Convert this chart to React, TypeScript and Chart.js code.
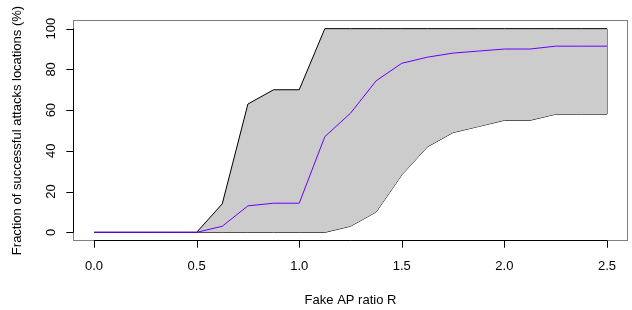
import React, { useEffect, useRef } from "react";
import { Chart, registerables } from "chart.js";

Chart.register(...registerables);

const ratios = [0, 0.125, 0.25, 0.375, 0.5, 0.625, 0.75, 0.875, 1.0, 1.125, 1.25, 1.375, 1.5, 1.625, 1.75, 1.875, 2.0, 2.125, 2.25, 2.375, 2.5];
const upperValues = [0, 0, 0, 0, 0, 14, 63, 70, 70, 100, 100, 100, 100, 100, 100, 100, 100, 100, 100, 100, 100];
const medianValues = [0, 0, 0, 0, 0, 3, 13, 14.3, 14.3, 47, 58.5, 74.4, 83, 86, 88, 89, 90, 90, 91.4, 91.4, 91.4];
const lowerValues = [0, 0, 0, 0, 0, 0, 0, 0, 0, 0, 3, 10, 28.2, 42, 49, 52, 55, 55, 58, 58, 58];

const xTicks = [0, 0.5, 1.0, 1.5, 2.0, 2.5];
const xTickLabels = ["0.0", "0.5", "1.0", "1.5", "2.0", "2.5"];
const yTicks = [0, 20, 40, 60, 80, 100];
const yTickLabels = ["0", "20", "40", "60", "80", "100"];

const xTitle = "Fake AP ratio R";
const yTitle = "Fraction of successful attacks locations (%)";

const FONT = '13px "Liberation Sans", Arial, sans-serif';

const rAxesPlugin = {
  id: "rAxes",
  afterDatasetsDraw(chart: any) {
    const { ctx, chartArea } = chart;
    const xs = chart.scales.x;
    const ys = chart.scales.y;
    ctx.save();
    // box
    ctx.lineWidth = 1;
    ctx.strokeStyle = "#808080";
    ctx.strokeRect(chartArea.left, chartArea.top, chartArea.right - chartArea.left, chartArea.bottom - chartArea.top);

    ctx.strokeStyle = "#000000";
    ctx.fillStyle = "#000000";
    ctx.font = FONT;
    const tick = 7.2;

    // x axis
    const xb = chartArea.bottom;
    ctx.beginPath();
    ctx.moveTo(xs.getPixelForValue(xTicks[0]), xb);
    ctx.lineTo(xs.getPixelForValue(xTicks[xTicks.length - 1]), xb);
    xTicks.forEach((v) => {
      const px = Math.round(xs.getPixelForValue(v)) + 0.5;
      ctx.moveTo(px, xb);
      ctx.lineTo(px, xb + tick);
    });
    ctx.stroke();
    ctx.textAlign = "center";
    ctx.textBaseline = "alphabetic";
    xTicks.forEach((v, i) => {
      ctx.fillText(xTickLabels[i], xs.getPixelForValue(v), 270);
    });
    ctx.fillText(xTitle, (chartArea.left + chartArea.right) / 2, 304);

    // y axis
    const yl = chartArea.left;
    ctx.beginPath();
    ctx.moveTo(yl, ys.getPixelForValue(yTicks[0]));
    ctx.lineTo(yl, ys.getPixelForValue(yTicks[yTicks.length - 1]));
    yTicks.forEach((v) => {
      const py = Math.round(ys.getPixelForValue(v)) + 0.5;
      ctx.moveTo(yl, py);
      ctx.lineTo(yl - tick, py);
    });
    ctx.stroke();
    yTicks.forEach((v, i) => {
      ctx.save();
      ctx.translate(54.5, ys.getPixelForValue(v));
      ctx.rotate(-Math.PI / 2);
      ctx.textAlign = "center";
      ctx.textBaseline = "alphabetic";
      ctx.fillText(yTickLabels[i], 0, 0);
      ctx.restore();
    });
    ctx.save();
    ctx.translate(21, (chartArea.top + chartArea.bottom) / 2);
    ctx.rotate(-Math.PI / 2);
    ctx.textAlign = "center";
    ctx.textBaseline = "alphabetic";
    ctx.fillText(yTitle, 0, 0);
    ctx.restore();

    ctx.restore();
  },
};

export default function App() {
  const canvasRef = useRef<HTMLCanvasElement | null>(null);

  useEffect(() => {
    if (!canvasRef.current) return;
    const pts = (vals: number[]) => ratios.map((x, i) => ({ x, y: vals[i] }));
    const last = ratios.length - 1;
    const chart = new Chart(canvasRef.current, {
      type: "line",
      data: {
        datasets: [
          {
            label: "median",
            data: pts(medianValues),
            borderColor: "#6a00ff",
            borderWidth: 1,
            pointRadius: 0,
            fill: false,
            tension: 0,
          },
          {
            label: "upper",
            data: pts(upperValues),
            borderColor: "#000000",
            backgroundColor: "#cccccc",
            borderWidth: 1,
            pointRadius: 0,
            fill: "+1",
            tension: 0,
          },
          {
            label: "lower",
            data: pts(lowerValues),
            borderColor: "#000000",
            borderWidth: 1,
            pointRadius: 0,
            fill: false,
            tension: 0,
          },
          {
            label: "edge",
            data: [
              { x: ratios[last], y: lowerValues[last] },
              { x: ratios[last], y: upperValues[last] },
            ],
            borderColor: "#000000",
            borderWidth: 1,
            pointRadius: 0,
            fill: false,
            tension: 0,
          },
        ],
      },
      options: {
        responsive: false,
        animation: false,
        layout: { padding: { left: 73.5, top: 20.5, right: 4.5, bottom: 69.5 } },
        plugins: {
          legend: { display: false },
          tooltip: { enabled: false },
        },
        scales: {
          x: { type: "linear", min: -0.1, max: 2.6, display: false },
          y: { type: "linear", min: -4, max: 104, display: false },
        },
      },
      plugins: [rAxesPlugin],
    });
    return () => chart.destroy();
  }, []);

  return (
    <div style={{ position: "fixed", left: 0, top: 0, width: 632, height: 310, background: "#ffffff" }}>
      <canvas ref={canvasRef} width={632} height={310} style={{ width: 632, height: 310, display: "block" }} />
    </div>
  );
}
